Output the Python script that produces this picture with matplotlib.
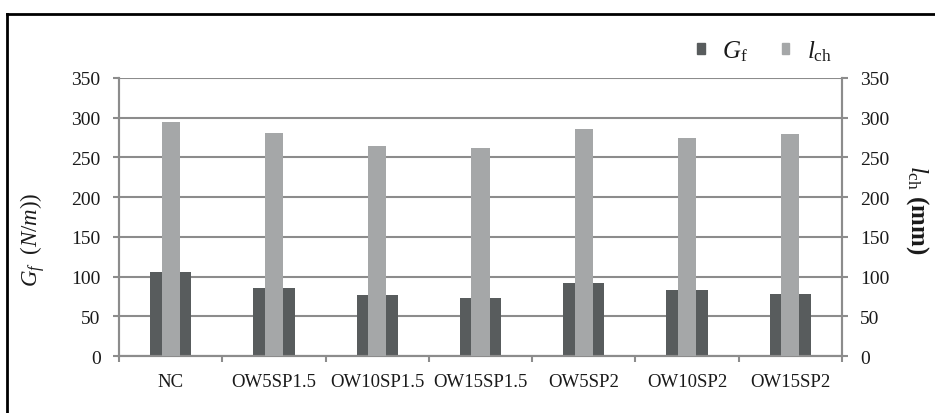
import matplotlib
matplotlib.use("Agg")
import matplotlib.pyplot as plt
import numpy as np
from matplotlib.lines import Line2D
from matplotlib.patches import Patch

categories = ["NC", "OW5SP1.5", "OW10SP1.5", "OW15SP1.5", "OW5SP2", "OW10SP2", "OW15SP2"]
gf_values = [106, 86, 77, 73, 92, 83, 78]
lch_values = [294, 281, 265, 262, 286, 274, 279]
y_ticks = [0, 50, 100, 150, 200, 250, 300, 350]

plt.rcParams['font.family'] = ['Liberation Serif', 'DejaVu Serif']
plt.rcParams['mathtext.fontset'] = 'custom'
plt.rcParams['mathtext.rm'] = 'Liberation Serif'
plt.rcParams['mathtext.it'] = 'Liberation Serif:italic'
plt.rcParams['mathtext.bf'] = 'Liberation Serif:bold'

dark = '#585c5d'
light = '#a5a7a8'
gridc = '#8c8c8c'
txt = '#1a1a1a'

W, H = 935, 414
fig = plt.figure(figsize=(9.35, 4.14), dpi=100)
ax = fig.add_axes([119/W, 1-357/H, (842-119)/W, (357-79)/H])
ax2 = ax.twinx()

x = np.arange(len(categories))
ax.bar(x, gf_values, width=0.40, color=dark, zorder=2)
ax2.bar(x, lch_values, width=0.175, color=light, zorder=3)

for a in (ax, ax2):
    a.set_ylim(0, 350)
    a.set_xlim(-0.5, len(categories) - 0.5)
    a.set_yticks(y_ticks)
    for s in ('left', 'right', 'bottom'):
        a.spines[s].set_color(gridc)
        a.spines[s].set_linewidth(1.5)
    a.spines['top'].set_visible(False)
    a.tick_params(axis='y', direction='out', length=4.2, width=1.5, color=gridc,
                  labelsize=14, labelcolor=txt, pad=9)

ax.yaxis.grid(True, color=gridc, linewidth=1.5, zorder=0)
ax.set_axisbelow(True)

ax.set_xticks(x)
ax.set_xticklabels(categories)
ax.set_xticks(np.arange(-0.5, len(categories), 1.0), minor=True)
ax.tick_params(axis='x', which='major', length=0, labelsize=13.5, labelcolor=txt, pad=12.5)
ax.tick_params(axis='x', which='minor', direction='out', length=4.2, width=1.5, color=gridc)

fig.text(33/W, 1-240/H, r'$G_f\ \ (N/m))$', fontsize=16.5, color=txt,
         rotation=90, ha='center', va='center')
fig.text(917/W, 1-210/H, r'$l_{\mathrm{ch}}$ $\mathbf{(mm)}$', fontsize=18, color=txt,
         rotation=270, ha='center', va='center')

handles = [Patch(color=dark), Patch(color=light)]
labels = [r'$G_{\mathrm{f}}$', r'$l_{\mathrm{ch}}$']
fig.legend(handles, labels, loc='center left', bbox_to_anchor=(697/W, 1-52/H),
           ncol=2, frameon=False, fontsize=18, handlelength=0.3, handleheight=0.3,
           handletextpad=0.7, columnspacing=1.35, borderpad=0, borderaxespad=0,
           labelcolor=txt)

# outer frame (left and top edges)
fig.add_artist(Line2D([7/W, 7/W], [0, 1-15/H], color='black', linewidth=2,
                      transform=fig.transFigure))
fig.add_artist(Line2D([7/W, 1], [1-15/H, 1-15/H], color='black', linewidth=2,
                      transform=fig.transFigure))

fig.savefig('out.png', dpi=100)
